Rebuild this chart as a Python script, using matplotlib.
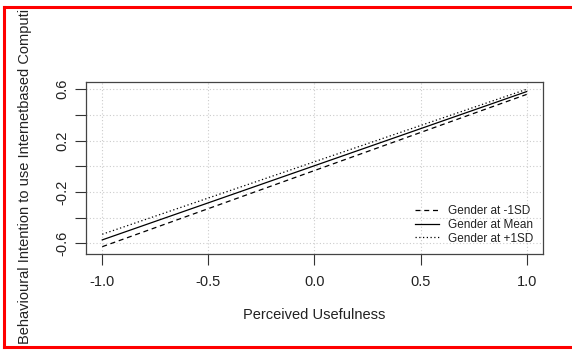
import matplotlib
matplotlib.use("Agg")
import matplotlib.pyplot as plt
from matplotlib.lines import Line2D

plt.rcParams['font.family'] = ['Liberation Sans', 'DejaVu Sans']

x_vals = [-1.0, 1.0]
series_labels = ["Gender at -1SD", "Gender at Mean", "Gender at +1SD"]
y_low = [-0.627, 0.56]    # Gender at -1SD
y_mean = [-0.574, 0.582]  # Gender at Mean
y_high = [-0.53, 0.60]    # Gender at +1SD
x_ticks = [-1.0, -0.5, 0.0, 0.5, 1.0]
x_ticklabels = ["-1.0", "-0.5", "0.0", "0.5", "1.0"]
y_ticks = [-0.6, -0.4, -0.2, 0.0, 0.2, 0.4, 0.6]
y_ticklabels = ["-0.6", "", "-0.2", "", "0.2", "", "0.6"]
xlabel = "Perceived Usefulness"
ylabel = "Behavioural Intention to use Internetbased Computi"

W, H = 572, 350
fig = plt.figure(figsize=(W / 100, H / 100), dpi=100)
ax = fig.add_axes([85.7 / W, 1 - 254 / H, (543 - 85.7) / W, (254 - 81.7) / H])

col = '#222222'
ax.plot(x_vals, y_low, color='black', lw=0.9, linestyle=(0, (4, 3)), label=series_labels[0])
ax.plot(x_vals, y_mean, color='black', lw=0.9, linestyle='-', label=series_labels[1])
ax.plot(x_vals, y_high, color='black', lw=0.9, linestyle=(0, (1, 2)), label=series_labels[2])

ax.set_xlim(-1.078, 1.077)
ax.set_ylim(-0.684, 0.659)
ax.set_xticks(x_ticks)
ax.set_xticklabels(x_ticklabels)
ax.set_yticks(y_ticks)
ax.set_yticklabels(y_ticklabels, rotation=90, va='center')
ax.grid(True, color='#cccccc', linestyle=(0, (1, 2)), lw=0.8)
ax.set_axisbelow(True)
ax.tick_params(axis='both', direction='out', length=8, width=0.8, color='#333333',
               labelsize=10.5, labelcolor=col)
ax.tick_params(axis='x', pad=7)
ax.tick_params(axis='y', pad=4)
for s in ax.spines.values():
    s.set_color('#444444')
    s.set_linewidth(0.9)

ax.set_xlabel(xlabel, fontsize=10.5, color=col, labelpad=14)
fig.text(25 / W, 1 - 344 / H, ylabel, rotation=90, ha='center', va='bottom',
         fontsize=10.55, color=col)

leg = ax.legend(loc='lower right', frameon=False, fontsize=8.5, handlelength=2.0,
                handletextpad=0.8, labelspacing=0.15, borderaxespad=0.4,
                bbox_to_anchor=(1.0, 0.0))
for t in leg.get_texts():
    t.set_color(col)

# red frame around picture
red = 'red'
fig.add_artist(Line2D([4 / W, 1.0], [1 - 7 / H, 1 - 7 / H], color=red, lw=2.2, transform=fig.transFigure))
fig.add_artist(Line2D([4 / W, 1.0], [1 - 346.5 / H, 1 - 346.5 / H], color=red, lw=2.2, transform=fig.transFigure))
fig.add_artist(Line2D([4 / W, 4 / W], [1 - 7 / H, 1 - 346.5 / H], color=red, lw=2.2, transform=fig.transFigure))

fig.savefig("out.png", dpi=100)
